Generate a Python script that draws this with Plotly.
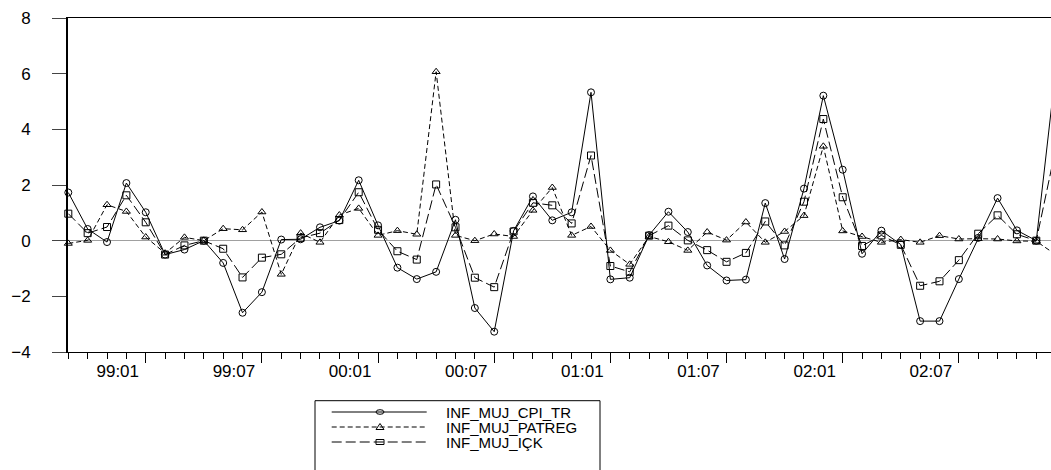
import pandas as pd
import plotly.graph_objects as go

# ---------------- data ----------------
months = [p.strftime("%Y-%m") for p in pd.period_range("1998-09", "2002-12", freq="M")]

inf_muj_cpi_tr = [
    1.73, 0.42, -0.05, 2.07, 1.02, -0.50, -0.32, 0.00, -0.80, -2.59,
    -1.85, 0.04, 0.05, 0.48, 0.72, 2.17, 0.55, -0.97, -1.38, -1.12,
    0.75, -2.42, -3.27, 0.35, 1.59, 0.73, 1.02, 5.33, -1.39, -1.33,
    0.20, 1.04, 0.31, -0.89, -1.43, -1.40, 1.35, -0.66, 1.87, 5.21,
    2.55, -0.47, 0.36, -0.14, -2.89, -2.89, -1.38, 0.10, 1.53, 0.37,
    0.00, 6.10,
]
inf_muj_patreg = [
    -0.10, 0.01, 1.29, 1.05, 0.13, -0.45, 0.12, 0.00, 0.43, 0.39,
    1.03, -1.21, 0.27, -0.06, 0.92, 1.16, 0.19, 0.36, 0.23, 6.07,
    0.19, 0.00, 0.24, 0.15, 1.09, 1.91, 0.19, 0.51, -0.35, -0.85,
    0.15, -0.04, -0.35, 0.31, 0.02, 0.67, -0.06, 0.33, 0.90, 3.39,
    0.35, 0.15, -0.06, 0.04, -0.06, 0.18, 0.06, 0.07, 0.06, -0.01,
    -0.02, -0.50,
]
inf_muj_ick = [
    0.97, 0.27, 0.49, 1.63, 0.66, -0.50, -0.17, 0.00, -0.29, -1.32,
    -0.61, -0.49, 0.10, 0.27, 0.74, 1.74, 0.39, -0.38, -0.68, 2.02,
    0.48, -1.33, -1.67, 0.33, 1.36, 1.27, 0.62, 3.06, -0.91, -1.12,
    0.18, 0.54, 0.01, -0.34, -0.76, -0.44, 0.69, -0.17, 1.40, 4.37,
    1.56, -0.19, 0.19, -0.15, -1.62, -1.46, -0.70, 0.25, 0.91, 0.23,
    0.00, 3.30,
]

series_names = ["INF_MUJ_CPI_TR", "INF_MUJ_PATREG", "INF_MUJ_IÇK"]
tick_months = ["1999-01", "1999-07", "2000-01", "2000-07",
               "2001-01", "2001-07", "2002-01", "2002-07"]
tick_labels = ["99:01", "99:07", "00:01", "00:07", "01:01", "01:07", "02:01", "02:07"]
y_ticks = [-4, -2, 0, 2, 4, 6, 8]

# ---------------- layout geometry ----------------
W, H = 1051, 470
L, R, T, B = 68, 0, 18, 118
PW = W - L - R
PH = H - T - B
FONT = "Liberation Sans, Arial, sans-serif"

x = list(range(len(months)))
tickvals = [months.index(m) for m in tick_months]

styles = [
    dict(dash="solid", symbol="circle-open"),
    dict(dash="5px,3px", symbol="triangle-up-open"),
    dict(dash="10px,4px", symbol="square-open"),
]
values = [inf_muj_cpi_tr, inf_muj_patreg, inf_muj_ick]

fig = go.Figure()
for name, vals, st in zip(series_names, values, styles):
    fig.add_trace(go.Scatter(
        x=x, y=vals, name=name, mode="lines+markers",
        line=dict(color="black", width=1, dash=st["dash"]),
        marker=dict(symbol=st["symbol"], size=7, color="black",
                    line=dict(width=1, color="black")),
        cliponaxis=False, showlegend=False,
    ))

fig.update_layout(
    width=W, height=H,
    margin=dict(l=L, r=R, t=T, b=B, pad=0),
    paper_bgcolor="white", plot_bgcolor="white",
    font=dict(family=FONT, size=17, color="black"),
    showlegend=False,
)
fig.update_xaxes(
    range=[-0.0155, 50.76],
    showgrid=False, zeroline=False,
    showline=True, linecolor="black", linewidth=1, mirror=True,
    tickmode="array", tickvals=tickvals, ticktext=tick_labels,
    ticks="outside", ticklen=10, tickwidth=1, tickcolor="black",
    ticklabelshift=-28, ticklabelstandoff=-6,
    tickfont=dict(family=FONT, size=17, color="black"),
    minor=dict(tickmode="linear", tick0=0, dtick=1, ticks="outside",
               ticklen=6, tickwidth=1, tickcolor="black", showgrid=False),
)
fig.update_yaxes(
    range=[-4, 8],
    showgrid=False,
    zeroline=True, zerolinecolor="#a0a0a0", zerolinewidth=1,
    showline=True, linecolor="black", linewidth=2, mirror=False,
    tickmode="array", tickvals=y_ticks,
    ticks="outside", ticklen=14, tickwidth=1, tickcolor="#444444",
    ticklabelstandoff=18,
    tickfont=dict(family=FONT, size=17, color="black"),
)

# ---------------- legend (drawn as layout decoration) ----------------
def px_x(px):
    return (px - L) / PW

def px_y(py):
    return (H - B - py) / PH

shapes = [dict(type="rect", xref="paper", yref="paper",
               x0=px_x(315), x1=px_x(600), y0=px_y(400.7), y1=px_y(500),
               line=dict(color="black", width=1), fillcolor="white", layer="above")]
rows_y = [412.0, 427.0, 442.0]
annotations = []
for (name, st, ry) in zip(series_names, styles, rows_y):
    shapes.append(dict(type="line", xref="paper", yref="paper",
                       x0=px_x(331.7), x1=px_x(426.7), y0=px_y(ry), y1=px_y(ry),
                       line=dict(color="black", width=1, dash=st["dash"]), layer="above"))
    cx = 380
    if st["symbol"].startswith("circle"):
        shapes.append(dict(type="circle", xref="paper", yref="paper",
                           x0=px_x(cx - 4), x1=px_x(cx + 4), y0=px_y(ry - 2.3), y1=px_y(ry + 2.3),
                           line=dict(color="black", width=1), layer="above"))
    elif st["symbol"].startswith("triangle"):
        path = "M {:.5f} {:.5f} L {:.5f} {:.5f} L {:.5f} {:.5f} Z".format(
            px_x(cx - 4), px_y(ry + 2.5), px_x(cx + 4), px_y(ry + 2.5), px_x(cx), px_y(ry - 3.5))
        shapes.append(dict(type="path", xref="paper", yref="paper", path=path,
                           line=dict(color="black", width=1), layer="above"))
    else:
        shapes.append(dict(type="rect", xref="paper", yref="paper",
                           x0=px_x(cx - 4), x1=px_x(cx + 4), y0=px_y(ry - 2.5), y1=px_y(ry + 2.5),
                           line=dict(color="black", width=1), layer="above"))
    annotations.append(dict(xref="paper", yref="paper", x=px_x(444), y=px_y(ry),
                            xanchor="left", yanchor="middle", showarrow=False,
                            text=name, font=dict(family=FONT, size=15, color="black")))

fig.update_layout(shapes=shapes, annotations=annotations)

fig.write_html("out.html")
